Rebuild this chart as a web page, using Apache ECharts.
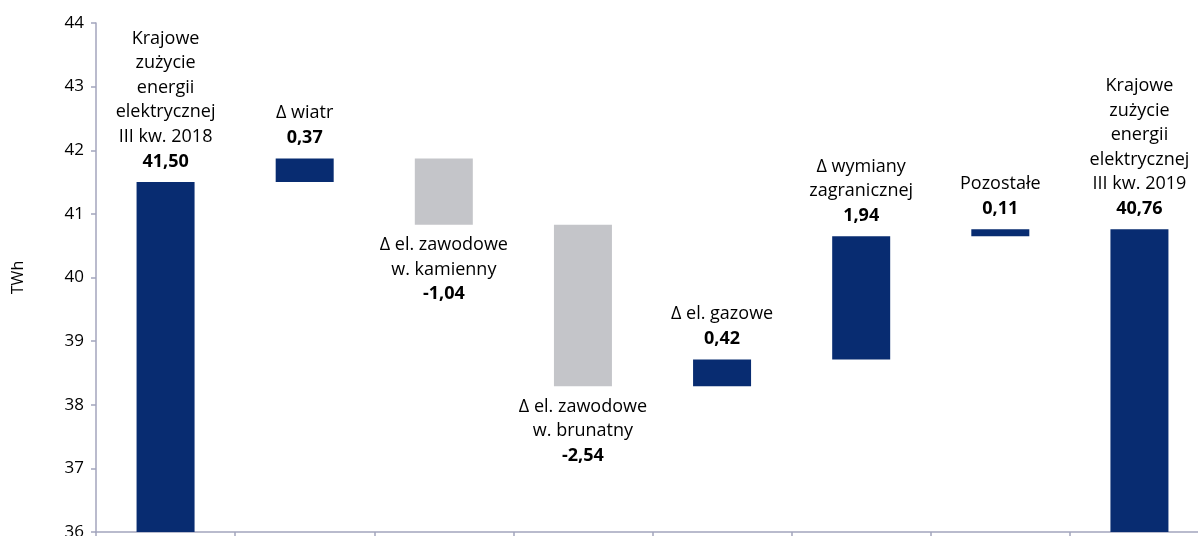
<!DOCTYPE html>
<html>
<head>
<meta charset="utf-8">
<script src="https://cdn.jsdelivr.net/npm/echarts@6/dist/echarts.min.js"></script>
<style>
    html, body {margin: 0; padding: 0; background: #fff; overflow: hidden;}
    #main {width: 1198px; height: 536px;}
</style>
</head>
<body>
<div id="main"></div>
<script>
// dane wykresu
var categories = [
    'Krajowe\nzużycie\nenergii\nelektrycznej\nIII kw. 2018',
    'Δ wiatr',
    'Δ el. zawodowe\nw. kamienny',
    'Δ el. zawodowe\nw. brunatny',
    'Δ el. gazowe',
    'Δ wymiany\nzagranicznej',
    'Pozostałe',
    'Krajowe\nzużycie\nenergii\nelektrycznej\nIII kw. 2019'
];
var startValue = 41.50;
var deltas = [0.37, -1.04, -2.54, 0.42, 1.94, 0.11];
var endValue = 40.76;
var yMin = 36, yMax = 44, yStep = 1;

var navy = '#082c71';
var grey = '#c4c5c9';

function fmt(v) {
    return v.toFixed(2).replace('.', ',');
}

// podstawy (przezroczyste) i widoczne słupki
var base = [0];
var shown = [];
shown.push({value: startValue, shownVal: startValue, itemStyle: {color: navy}, label: {position: 'top'}});
var run = startValue;
deltas.forEach(function (d) {
    if (d >= 0) {
        base.push(run);
        shown.push({value: d, shownVal: d, itemStyle: {color: navy}, label: {position: 'top'}});
    } else {
        base.push(run + d);
        shown.push({value: -d, shownVal: d, itemStyle: {color: grey}, label: {position: 'bottom'}});
    }
    run = Math.round((run + d) * 100) / 100;
});
base.push(0);
shown.push({value: endValue, shownVal: endValue, itemStyle: {color: navy}, label: {position: 'top'}});

var myChart = echarts.init(document.getElementById('main'));

var option = {
    animation: false,
    textStyle: {fontFamily: 'Open Sans'},
    grid: {left: 96, right: -11, top: 23, bottom: 4, outerBoundsMode: 'none', containLabel: false},
    xAxis: {
        type: 'category',
        data: categories,
        axisLine: {lineStyle: {color: '#a3a5bd', width: 1.5}},
        axisTick: {show: true, length: 6, interval: 0, lineStyle: {color: '#a3a5bd', width: 1.5}},
        axisLabel: {show: false}
    },
    yAxis: {
        type: 'value',
        min: yMin,
        max: yMax,
        interval: yStep,
        name: 'TWh',
        nameLocation: 'middle',
        nameGap: 70,
        nameTextStyle: {fontSize: 16, color: '#000'},
        axisLine: {show: true, lineStyle: {color: '#a3a5bd', width: 1.5}},
        axisTick: {show: true, length: 5, lineStyle: {color: '#a3a5bd', width: 1.5}},
        axisLabel: {fontSize: 17, color: '#000', margin: 12},
        splitLine: {show: false}
    },
    series: [
        {
            type: 'bar',
            stack: 'w',
            data: base,
            barWidth: 58,
            itemStyle: {color: 'transparent'},
            emphasis: {disabled: true},
            silent: true
        },
        {
            type: 'bar',
            stack: 'w',
            data: shown,
            barWidth: 58,
            label: {
                show: true,
                distance: 8,
                formatter: function (p) {
                    var lines = categories[p.dataIndex].split('\n').map(function (s) {
                        return '{t|' + s + '}';
                    });
                    lines.push('{b|' + fmt(p.data.shownVal) + '}');
                    return lines.join('\n');
                },
                rich: {
                    t: {fontSize: 18, lineHeight: 24.5, color: '#000', fontFamily: 'Open Sans'},
                    b: {fontSize: 18, lineHeight: 25, color: '#000', fontWeight: 'bold', fontFamily: 'Open Sans'}
                }
            }
        }
    ]
};

myChart.setOption(option);
window.onresize = myChart.resize;
</script>
</body>
</html>
